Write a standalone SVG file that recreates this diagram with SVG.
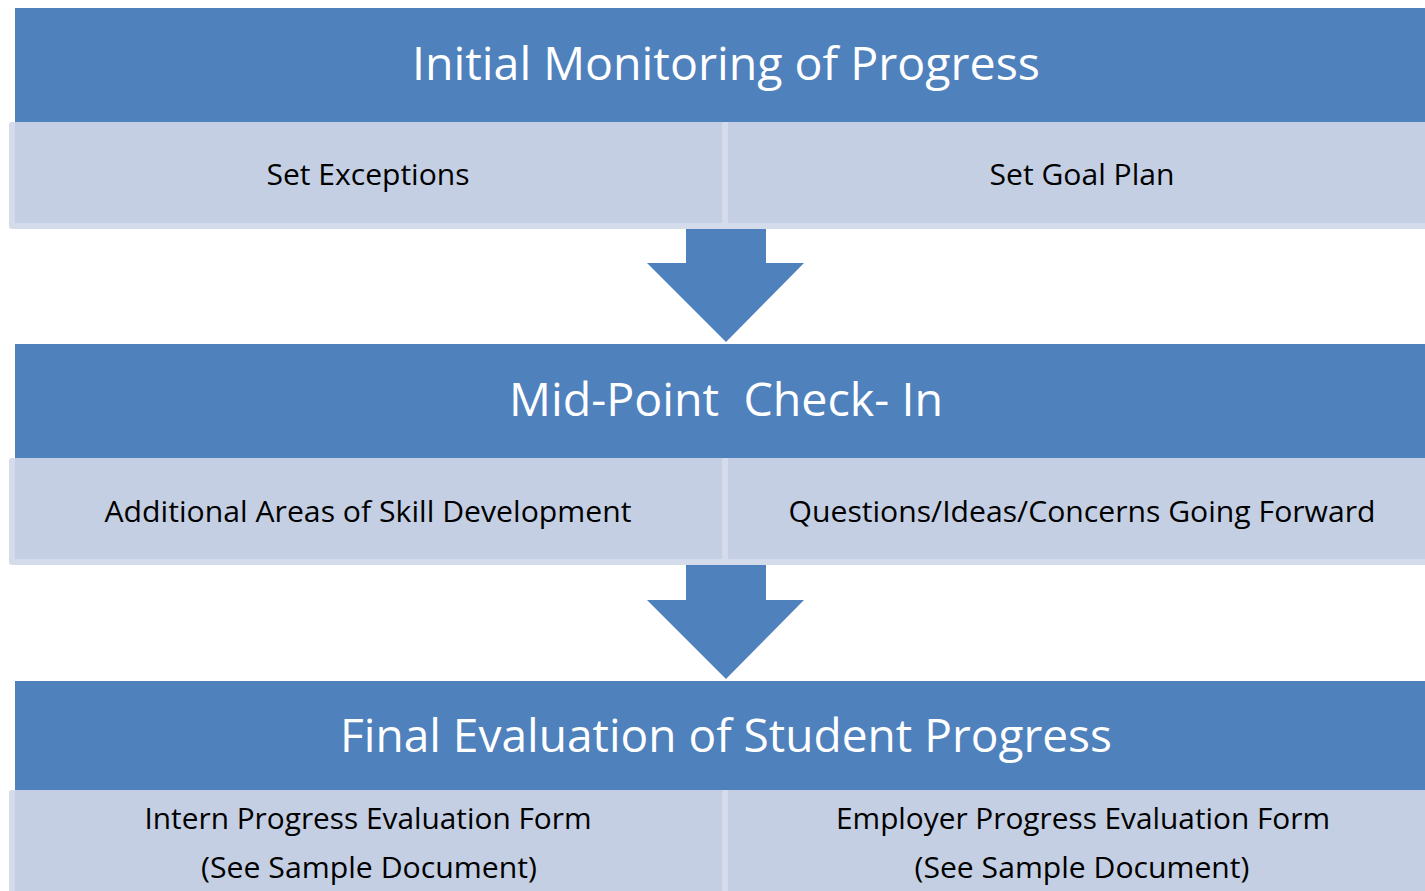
<svg xmlns="http://www.w3.org/2000/svg" width="1425" height="891" viewBox="0 0 1425 891">
<style>
.hdr{fill:#4f81bd}
.sub{fill:#c4cfe3}
.edge{fill:#d4dbeb}
.arrow{fill:#4f81bd}
text{font-family:"Open Sans","Liberation Sans",sans-serif;text-anchor:middle}
.ht{fill:#ffffff;font-size:46px}
.st{fill:#000000;font-size:29px}
</style>
<rect width="1425" height="891" fill="#ffffff"/>
<g id="connectors">
  <path class="arrow" d="M686,228 H766 V263 H804 L726,342 L647,263 H686 Z"/>
  <path class="arrow" d="M686,565 H766 V600 H804 L726,679 L647,600 H686 Z"/>
</g>
<g id="initial-monitoring">
  <rect class="hdr" x="15" y="8" width="1420" height="114"/>
  <text class="ht" x="726" y="80" textLength="628" lengthAdjust="spacingAndGlyphs">Initial Monitoring of Progress</text>
</g>
<g id="set-exceptions">
  <rect class="edge" x="9" y="122" width="720" height="107" rx="3"/>
  <rect class="sub" x="15" y="122" width="708" height="101"/>
  <text class="st" x="368" y="185" textLength="203" lengthAdjust="spacingAndGlyphs">Set Exceptions</text>
</g>
<g id="set-goal-plan">
  <rect class="edge" x="722" y="122" width="720" height="107" rx="3"/>
  <rect class="sub" x="728" y="122" width="710" height="101"/>
  <text class="st" x="1082" y="185" textLength="185" lengthAdjust="spacingAndGlyphs">Set Goal Plan</text>
</g>
<g id="mid-point">
  <rect class="hdr" x="15" y="344" width="1420" height="114"/>
  <text class="ht" x="726" y="416" textLength="434" lengthAdjust="spacingAndGlyphs" xml:space="preserve">Mid-Point  Check- In</text>
</g>
<g id="skill-development">
  <rect class="edge" x="9" y="458" width="720" height="107" rx="3"/>
  <rect class="sub" x="15" y="458" width="708" height="101"/>
  <text class="st" x="368" y="522" textLength="527" lengthAdjust="spacingAndGlyphs">Additional Areas of Skill Development</text>
</g>
<g id="questions">
  <rect class="edge" x="722" y="458" width="720" height="107" rx="3"/>
  <rect class="sub" x="728" y="458" width="710" height="101"/>
  <text class="st" x="1082" y="522" textLength="587" lengthAdjust="spacingAndGlyphs">Questions/Ideas/Concerns Going Forward</text>
</g>
<g id="final-evaluation">
  <rect class="hdr" x="15" y="681" width="1420" height="109"/>
  <text class="ht" x="726" y="752" textLength="772" lengthAdjust="spacingAndGlyphs">Final Evaluation of Student Progress</text>
</g>
<g id="intern-form">
  <rect class="edge" x="9" y="790" width="720" height="120" rx="3"/>
  <rect class="sub" x="15" y="790" width="708" height="110"/>
  <text class="st" x="368" y="829" textLength="447" lengthAdjust="spacingAndGlyphs">Intern Progress Evaluation Form</text>
  <text class="st" x="369" y="878" textLength="336" lengthAdjust="spacingAndGlyphs">(See Sample Document)</text>
</g>
<g id="employer-form">
  <rect class="edge" x="722" y="790" width="720" height="120" rx="3"/>
  <rect class="sub" x="728" y="790" width="710" height="110"/>
  <text class="st" x="1083" y="829" textLength="494" lengthAdjust="spacingAndGlyphs">Employer Progress Evaluation Form</text>
  <text class="st" x="1082" y="878" textLength="335" lengthAdjust="spacingAndGlyphs">(See Sample Document)</text>
</g>
</svg>
